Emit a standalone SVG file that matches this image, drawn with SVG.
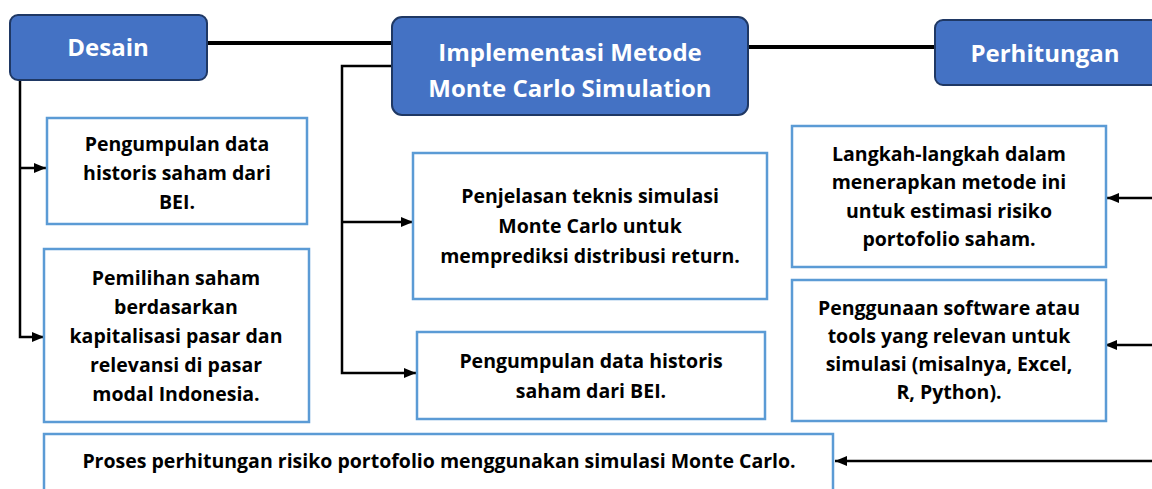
<svg xmlns="http://www.w3.org/2000/svg" width="1152" height="489" viewBox="0 0 1152 489">
<style>
.head rect{fill:#4472C4;stroke:#1F3864;stroke-width:2}
.head text{fill:#fff;font-family:"Open Sans",Lato,sans-serif;font-weight:bold;font-size:24px;text-anchor:middle}
.box rect{fill:#fff;stroke:#5B9BD5;stroke-width:2.5}
.box text{fill:#000;font-family:"Open Sans",Lato,sans-serif;font-weight:bold;font-size:19.5px;text-anchor:middle}
.conn path{fill:none;stroke:#000;stroke-width:2.5}
.conn path.thick{stroke-width:4}
</style>
<defs>
<marker id="ah" viewBox="0 0 12 10" refX="12" refY="5" markerWidth="12" markerHeight="10" markerUnits="userSpaceOnUse" orient="auto">
<path d="M0,0 L12,5 L0,10 Z" fill="#000"/>
</marker>
</defs>
<g class="conn" id="connectors">
<path class="thick" d="M207,43 H392"/>
<path class="thick" d="M748,47 H935"/>
<path d="M20,80 V337 H44" marker-end="url(#ah)"/>
<path d="M20,168 H46" marker-end="url(#ah)"/>
<path d="M392,66 H342 V373 H416" marker-end="url(#ah)"/>
<path d="M342,222 H413" marker-end="url(#ah)"/>
<path d="M1152,198 H1107" marker-end="url(#ah)"/>
<path d="M1152,345 H1105" marker-end="url(#ah)"/>
<path d="M1152,461 H835" marker-end="url(#ah)"/>
</g>
<g class="head" id="desain">
<rect x="10" y="15" width="197" height="65" rx="8"/>
<text x="108" y="56">Desain</text>
</g>
<g class="head" id="implementasi">
<rect x="392" y="17" width="356" height="98" rx="10"/>
<text x="570" y="61">Implementasi Metode</text>
<text x="570" y="97">Monte Carlo Simulation</text>
</g>
<g class="head" id="perhitungan">
<rect x="935" y="20" width="225" height="65" rx="8"/>
<text x="1045" y="62">Perhitungan</text>
</g>
<g class="box" id="box-pengumpulan1">
<rect x="47" y="118" width="260" height="106"/>
<text x="177" y="151">Pengumpulan data</text>
<text x="177" y="180">historis saham dari</text>
<text x="177" y="209">BEI.</text>
</g>
<g class="box" id="box-pemilihan">
<rect x="44" y="249" width="265" height="173"/>
<text x="176" y="285">Pemilihan saham</text>
<text x="176" y="314">berdasarkan</text>
<text x="176" y="343">kapitalisasi pasar dan</text>
<text x="176" y="372">relevansi di pasar</text>
<text x="176" y="401">modal Indonesia.</text>
</g>
<g class="box" id="box-penjelasan">
<rect x="413" y="153" width="354" height="146"/>
<text x="590" y="203">Penjelasan teknis simulasi</text>
<text x="590" y="233">Monte Carlo untuk</text>
<text x="590" y="263">memprediksi distribusi return.</text>
</g>
<g class="box" id="box-pengumpulan2">
<rect x="417" y="332" width="348" height="87"/>
<text x="591" y="368">Pengumpulan data historis</text>
<text x="591" y="398">saham dari BEI.</text>
</g>
<g class="box" id="box-langkah">
<rect x="792" y="126" width="314" height="141"/>
<text x="949" y="161">Langkah-langkah dalam</text>
<text x="949" y="189">menerapkan metode ini</text>
<text x="949" y="218">untuk estimasi risiko</text>
<text x="949" y="246">portofolio saham.</text>
</g>
<g class="box" id="box-software">
<rect x="792" y="280" width="314" height="141"/>
<text x="949" y="315">Penggunaan software atau</text>
<text x="949" y="343">tools yang relevan untuk</text>
<text x="949" y="371">simulasi (misalnya, Excel,</text>
<text x="949" y="399">R, Python).</text>
</g>
<g class="box" id="box-proses">
<rect x="44" y="434" width="789" height="70"/>
<text x="439" y="468">Proses perhitungan risiko portofolio menggunakan simulasi Monte Carlo.</text>
</g>
</svg>
